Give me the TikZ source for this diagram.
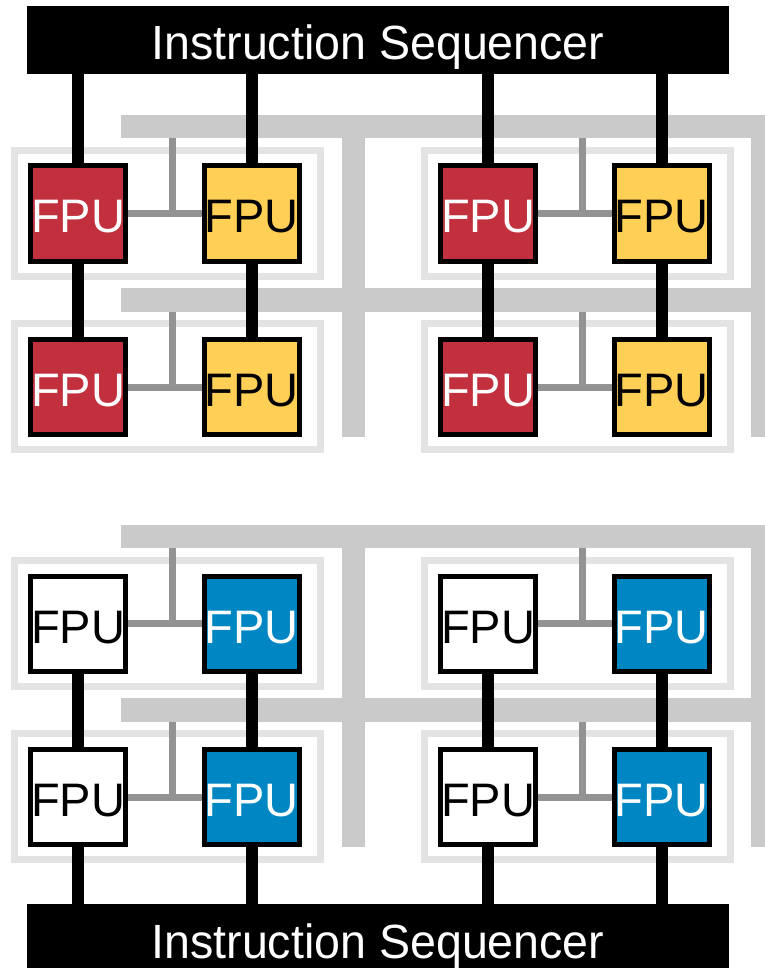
\documentclass[tikz,border=0pt]{standalone}
\usepackage{fontspec}
\setmainfont{Liberation Sans}
\definecolor{fpured}{RGB}{193,48,60}
\definecolor{fpuyellow}{RGB}{255,208,85}
\definecolor{fpublue}{RGB}{0,134,194}
\definecolor{busgray}{RGB}{202,202,202}
\definecolor{framegray}{RGB}{227,227,227}
\definecolor{linkgray}{RGB}{147,147,147}
\pgfdeclarelayer{bg}
\pgfsetlayers{bg,main}
\tikzset{
  fpu/.style={draw=black,line width=5pt,minimum size=95pt,inner sep=0pt,
    text height=39pt,text depth=0pt,font=\fontsize{47}{47}\selectfont},
  fpu-t-1/.style={fill=fpured,text=white},
  fpu-t-2/.style={fill=fpuyellow,text=black},
  fpu-b-1/.style={fill=white,text=black},
  fpu-b-2/.style={fill=fpublue,text=white},
  seqbar/.style={fill=black,text=white,minimum width=702pt,minimum height=68pt,
    inner sep=0pt,text height=40pt,text depth=0pt,font=\fontsize{48}{48}\selectfont},
  bus/.style={fill=busgray},
  frame/.style={draw=framegray,line width=7pt},
  link/.style={draw=linkgray,line width=7pt},
  wire/.style={draw=black,line width=12pt}
}
\begin{document}
\begin{tikzpicture}[x=1pt,y=-1pt]
\clip (0,0) rectangle (764,968);
\begin{pgfonlayer}{bg}
  \fill[white] (0,0) rectangle (764,968);
\end{pgfonlayer}
% sequencers
\node[seqbar] (seqtop) at (378,40) {\scalebox{0.97}[1]{Instruction Sequencer}};
\node[seqbar] (seqbot) at (378,938) {\scalebox{0.97}[1]{Instruction Sequencer}};
\foreach \s/\dy in {t/0,b/410}{
  \begin{pgfonlayer}{bg}
    \fill[bus] (121,{115+\dy}) rectangle (775,{138+\dy});
    \fill[bus] (121,{288+\dy}) rectangle (775,{312+\dy});
    \fill[bus] (342,{115+\dy}) rectangle (365,{437+\dy});
    \fill[bus] (751,{115+\dy}) rectangle (774,{437+\dy});
  \end{pgfonlayer}
  \foreach \g/\dx in {l/0,r/410}{
    \begin{pgfonlayer}{bg}
      \draw[frame] ({14.5+\dx},{150.5+\dy}) rectangle ({320.5+\dx},{276.5+\dy});
      \draw[frame] ({14.5+\dx},{323.5+\dy}) rectangle ({320.5+\dx},{449.5+\dy});
    \end{pgfonlayer}
    \node[fpu,fpu-\s-1] (\s\g11) at ({78+\dx},{213.5+\dy}) {FPU};
    \node[fpu,fpu-\s-2] (\s\g12) at ({251.5+\dx},{213.5+\dy}) {FPU};
    \node[fpu,fpu-\s-1] (\s\g21) at ({78+\dx},{387+\dy}) {FPU};
    \node[fpu,fpu-\s-2] (\s\g22) at ({251.5+\dx},{387+\dy}) {FPU};
    \coordinate (\s\g-tap1) at ({172+\dx},{138+\dy});
    \coordinate (\s\g-tap2) at ({172+\dx},{312+\dy});
    \begin{pgfonlayer}{bg}
      \draw[link] (\s\g11.east) -- (\s\g12.west);
      \draw[link] (\s\g21.east) -- (\s\g22.west);
      \draw[link] (\s\g-tap1) -- (\s\g-tap1 |- \s\g11.center);
      \draw[link] (\s\g-tap2) -- (\s\g-tap2 |- \s\g21.center);
      \draw[wire] (\s\g11) -- (\s\g21);
      \draw[wire] (\s\g12) -- (\s\g22);
    \end{pgfonlayer}
  }
}
\begin{pgfonlayer}{bg}
  \foreach \g in {l,r}{
    \draw[wire] (t\g11.north |- seqtop.south) -- (t\g11.north);
    \draw[wire] (t\g12.north |- seqtop.south) -- (t\g12.north);
    \draw[wire] (b\g21.south) -- (b\g21.south |- seqbot.north);
    \draw[wire] (b\g22.south) -- (b\g22.south |- seqbot.north);
  }
\end{pgfonlayer}
\end{tikzpicture}
\end{document}
